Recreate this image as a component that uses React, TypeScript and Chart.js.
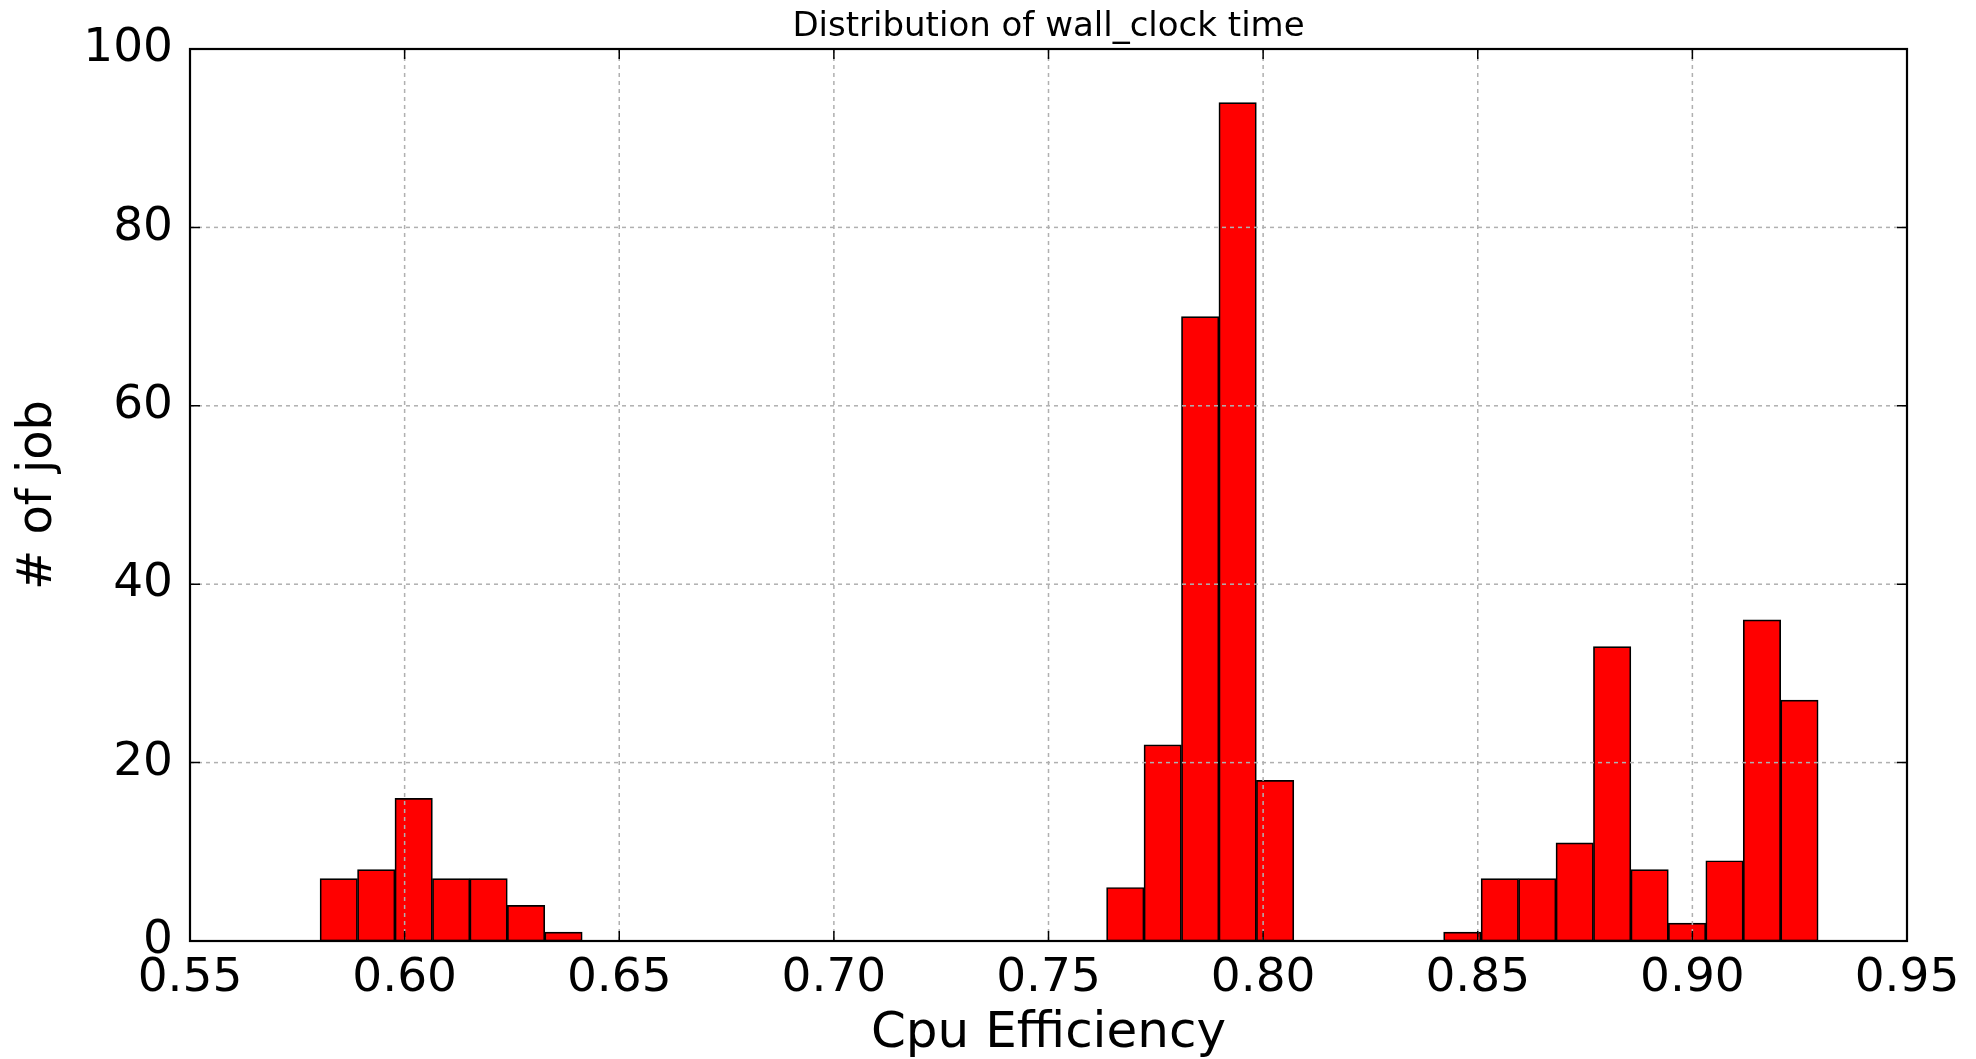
import React, { useEffect, useRef } from "react";
import { Chart, registerables } from "chart.js";

Chart.register(...registerables);

// Histogram bin centres (only non-empty bins) and job counts
const binCenters = [
  0.58466, 0.59339, 0.60211, 0.61084, 0.61956, 0.62829, 0.63701,
  0.76789, 0.77661, 0.78534, 0.79406, 0.80279,
  0.84641, 0.85514, 0.86386, 0.87259, 0.88131, 0.89004, 0.89876, 0.90749, 0.91621, 0.92494,
];
const jobCounts = [
  7, 8, 16, 7, 7, 4, 1,
  6, 22, 70, 94, 18,
  1, 7, 7, 11, 33, 8, 2, 9, 36, 27,
];
const xTicks = [0.55, 0.6, 0.65, 0.7, 0.75, 0.8, 0.85, 0.9, 0.95];
const yTicks = [0, 20, 40, 60, 80, 100];

const titleText = "Distribution of wall_clock time";
const xTitle = "Cpu Efficiency";
const yTitle = "# of job";

const FONT = "'DejaVu Sans', sans-serif";

const overlay = {
  id: "overlay",
  afterDatasetsDraw(chart: any) {
    const { ctx, chartArea: a, scales } = chart;
    const x = scales.x;
    const y = scales.y;
    ctx.save();
    // grid on top of bars
    ctx.strokeStyle = "#b0b0b0";
    ctx.lineWidth = 1.5;
    ctx.setLineDash([4, 4]);
    for (const v of xTicks) {
      const px = x.getPixelForValue(v);
      ctx.beginPath();
      ctx.moveTo(px, a.top);
      ctx.lineTo(px, a.bottom);
      ctx.stroke();
    }
    for (const v of yTicks) {
      const py = y.getPixelForValue(v);
      ctx.beginPath();
      ctx.moveTo(a.left, py);
      ctx.lineTo(a.right, py);
      ctx.stroke();
    }
    ctx.setLineDash([]);
    // inward ticks
    const tl = 10;
    ctx.strokeStyle = "#000";
    ctx.lineWidth = 1.5;
    for (const v of xTicks) {
      const px = x.getPixelForValue(v);
      ctx.beginPath();
      ctx.moveTo(px, a.bottom);
      ctx.lineTo(px, a.bottom - tl);
      ctx.moveTo(px, a.top);
      ctx.lineTo(px, a.top + tl);
      ctx.stroke();
    }
    for (const v of yTicks) {
      const py = y.getPixelForValue(v);
      ctx.beginPath();
      ctx.moveTo(a.left, py);
      ctx.lineTo(a.left + tl, py);
      ctx.moveTo(a.right, py);
      ctx.lineTo(a.right - tl, py);
      ctx.stroke();
    }
    // frame
    ctx.lineWidth = 2.2;
    ctx.strokeRect(a.left, a.top, a.right - a.left, a.bottom - a.top);
    ctx.restore();
  },
};

export default function App() {
  const ref = useRef<HTMLCanvasElement | null>(null);

  useEffect(() => {
    if (!ref.current) return;
    const data = binCenters.map((c, i) => ({ x: c, y: jobCounts[i] }));
    const chart = new Chart(ref.current, {
      type: "bar",
      data: {
        datasets: [
          {
            data: data as any,
            backgroundColor: "#ff0000",
            borderColor: "#000000",
            borderWidth: 1.7,
            borderSkipped: false,
            barPercentage: 1,
            categoryPercentage: 1,
          },
        ],
      },
      options: {
        animation: false,
        responsive: false,
        events: [],
        layout: { padding: { left: 0, right: 69, top: 0, bottom: 0 } },
        plugins: {
          legend: { display: false },
          tooltip: { enabled: false },
          title: {
            display: true,
            text: titleText,
            fullSize: false,
            color: "#000",
            font: { family: FONT, size: 34, weight: "normal", lineHeight: 1 },
            padding: { top: 10.5, bottom: 4.5 },
          },
        },
        scales: {
          x: {
            type: "linear",
            offset: false,
            min: 0.55,
            max: 0.95,
            grid: { display: false, drawTicks: false },
            border: { display: false },
            afterBuildTicks: (s: any) => {
              s.ticks = xTicks.map((v) => ({ value: v }));
            },
            afterFit: (s: any) => {
              s.height = 118;
            },
            ticks: {
              autoSkip: false,
              maxRotation: 0,
              padding: 10,
              color: "#000",
              font: { family: FONT, size: 47 },
              callback: (v: any) => Number(v).toFixed(2),
            },
            title: {
              display: true,
              text: xTitle,
              color: "#000",
              font: { family: FONT, size: 50, lineHeight: 1 },
              padding: { top: 0, bottom: 0 },
            },
          },
          y: {
            min: 0,
            max: 100,
            grid: { display: false, drawTicks: false },
            border: { display: false },
            afterBuildTicks: (s: any) => {
              s.ticks = yTicks.map((v) => ({ value: v }));
            },
            afterFit: (s: any) => {
              s.width = 190;
            },
            ticks: {
              autoSkip: false,
              padding: 17,
              color: "#000",
              font: { family: FONT, size: 47 },
              callback: (v: any) => String(v),
            },
            title: {
              display: true,
              text: yTitle,
              color: "#000",
              font: { family: FONT, size: 48, lineHeight: 1 },
              padding: { top: 15, bottom: 0 },
            },
          },
        },
      },
      plugins: [overlay],
    });
    return () => chart.destroy();
  }, []);

  return (
    <div style={{ position: "fixed", left: 0, top: 0, width: 1976, height: 1059, background: "#fff" }}>
      <canvas ref={ref} width={1976} height={1059} style={{ display: "block" }} />
    </div>
  );
}
